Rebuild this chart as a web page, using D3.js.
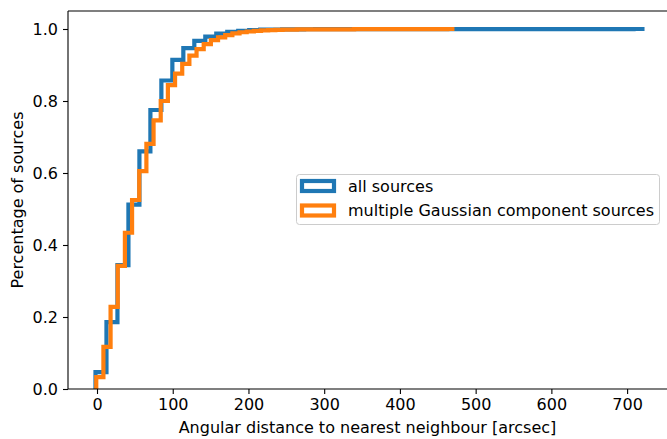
<!DOCTYPE html>
<html><head><meta charset="utf-8">
<script src="https://cdn.jsdelivr.net/npm/d3@7"></script>
<style>
html,body{margin:0;padding:0;background:#fff;}
svg{display:block;font-family:"DejaVu Sans",sans-serif;}
</style></head>
<body>
<svg id="chart" width="667" height="439"></svg>
<script>
// ---- data ----
const seriesNames = ["all sources", "multiple Gaussian component sources"];
const seriesColors = ["#1f77b4", "#ff7f0e"];
// bin ranges (50 equal bins each)
const allRange = [-2, 723];
const multiRange = [-1, 472];
// cumulative fraction per bin
const allValues = [0.047,0.186,0.344,0.512,0.66,0.775,0.857,0.914,0.947,0.967,
  0.979,0.987,0.992,0.995,0.997,0.998,0.9985,0.999,0.999,0.9993,
  0.9995,0.9995,0.9995,0.9995,0.9995,0.9995,0.9995,0.9995,0.9995,0.9995,
  0.9995,0.9996,0.9996,0.9996,0.9996,0.9996,0.9996,0.9996,0.9996,0.9996,
  0.9996,0.9996,0.9996,0.9996,0.9996,0.9996,0.9998,0.9998,0.9998,1.0];
const multiValues = [0.033,0.117,0.228,0.342,0.434,0.525,0.605,0.681,0.746,0.80,
  0.844,0.876,0.903,0.926,0.944,0.958,0.969,0.977,0.983,0.988,
  0.991,0.993,0.995,0.996,0.997,0.9975,0.998,0.9985,0.9988,0.999,
  0.9992,0.9992,0.9992,0.9992,0.9992,0.9992,0.9995,0.9995,0.9995,0.9995,
  0.9995,0.9997,0.9997,0.9997,0.9997,0.9998,0.9998,0.9998,0.9998,1.0];
const xTicks = [0,100,200,300,400,500,600,700];
const yTicks = [0,0.2,0.4,0.6,0.8,1.0];
const xLabel = "Angular distance to nearest neighbour [arcsec]";
const yLabel = "Percentage of sources";

// ---- layout ----
const svg = d3.select("#chart");
const L = 68, R = 668, T = 11, B = 389;
const x = d3.scaleLinear().domain([-38.3, 754]).range([L, R]);
const y = d3.scaleLinear().domain([0, 1.05]).range([B, T]);
const FS = 16;

svg.append("defs").append("clipPath").attr("id","clip")
  .append("rect").attr("x",L).attr("y",T).attr("width",R-L).attr("height",B-T);

function stepPoints(range, vals){
  const n = vals.length, w = (range[1]-range[0])/n;
  const pts = [[range[0], 0]];
  vals.forEach((v,i)=>pts.push([range[0]+i*w, v]));
  pts.push([range[1], vals[n-1]]);
  return pts;
}
const line = d3.line().x(d=>x(d[0])).y(d=>y(d[1])).curve(d3.curveStepAfter);
const plot = svg.append("g").attr("clip-path","url(#clip)");
[[allRange, allValues],[multiRange, multiValues]].forEach((s,i)=>{
  plot.append("path").attr("d", line(stepPoints(s[0], s[1])))
    .attr("fill","none").attr("stroke", seriesColors[i])
    .attr("stroke-width",4.2).attr("stroke-linejoin","miter");
});

// axes
const xAxis = d3.axisBottom(x).tickValues(xTicks).tickSize(5).tickPadding(5).tickFormat(d3.format("d"));
const yAxis = d3.axisLeft(y).tickValues(yTicks).tickSize(5).tickPadding(5).tickFormat(d3.format(".1f"));
const gx = svg.append("g").attr("transform",`translate(0,${B})`).call(xAxis);
const gy = svg.append("g").attr("transform",`translate(${L},0)`).call(yAxis);
[gx,gy].forEach(g=>{
  g.select(".domain").remove();
  g.selectAll("line").attr("stroke","#000").attr("stroke-width",1.1);
  g.selectAll("text").attr("font-size",FS).attr("font-family","DejaVu Sans").attr("fill","#000");
});
// spines
svg.append("line").attr("x1",L).attr("x2",L).attr("y1",T).attr("y2",B).attr("stroke","#000").attr("stroke-width",1.1);
svg.append("line").attr("x1",L).attr("x2",R).attr("y1",B).attr("y2",B).attr("stroke","#000").attr("stroke-width",1.1);
svg.append("line").attr("x1",L).attr("x2",R).attr("y1",T).attr("y2",T).attr("stroke","#000").attr("stroke-width",1.1);

// axis labels
svg.append("text").attr("x",(L+667)/2).attr("y",433).attr("text-anchor","middle")
  .attr("font-size",FS).text(xLabel);
svg.append("text").attr("transform",`translate(23,${(T+B)/2}) rotate(-90)`).attr("text-anchor","middle")
  .attr("font-size",FS).text(yLabel);

// legend
const lg = svg.append("g");
lg.append("rect").attr("x",296.5).attr("y",174.5).attr("width",363).attr("height",50).attr("rx",3)
  .attr("fill","#fff").attr("fill-opacity",0.8).attr("stroke","#ccc").attr("stroke-width",1);
seriesNames.forEach((nm,i)=>{
  const cy = 186 + i*24.5;
  lg.append("rect").attr("x",302).attr("y",cy-5).attr("width",32).attr("height",10)
    .attr("fill","none").attr("stroke",seriesColors[i]).attr("stroke-width",4.2);
  lg.append("text").attr("x",348).attr("y",cy).attr("dy","0.35em").attr("font-size",FS).text(nm);
});
</script>
</body></html>
